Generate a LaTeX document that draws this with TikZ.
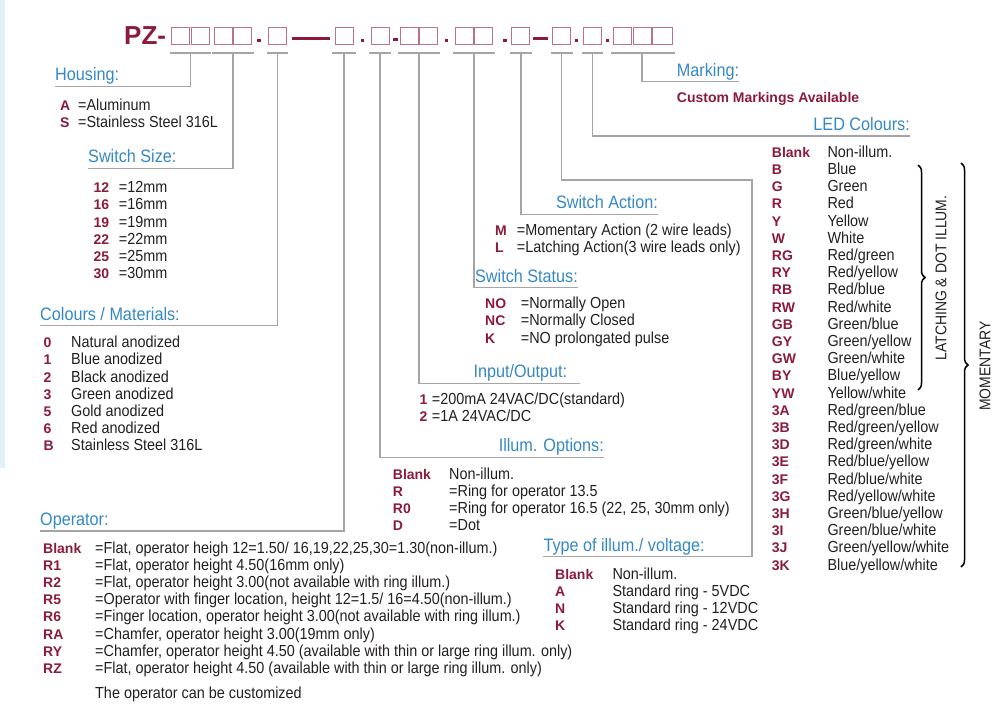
\documentclass[tikz,border=0pt]{standalone}
\usepackage{fontspec}
\usepackage{array}
\setmainfont{Liberation Sans}[FakeStretch=0.9]
\newfontfamily\codefont{Liberation Sans}
\usepackage{tikz}
\usetikzlibrary{
  calc,
  decorations.pathreplacing,
  positioning,
}
\definecolor{codered}{RGB}{139,26,60}
\definecolor{headblue}{RGB}{52,136,196}
\definecolor{linegray}{RGB}{165,165,165}
\definecolor{boxpink}{RGB}{192,112,135}
\definecolor{textgray}{RGB}{35,31,32}
\definecolor{stripblue}{RGB}{226,240,248}
\newcommand{\codestyle}{\codefont\bfseries\fontsize{14}{17.2}\selectfont\color{codered}}
\newcommand{\codelist}[2]{\begin{tabular}[t]{@{}>{\leavevmode\codestyle}p{#1}@{}l@{}}#2\end{tabular}}
\tikzstyle{link} = [
  line width=1.5pt,
  linegray,
]
\tikzstyle{digit} = [
  rectangle,
  draw=boxpink,
  line width=0.9pt,
  minimum width=18pt,
  minimum height=17pt,
  inner sep=0,
]
\tikzstyle{heading} = [
  inner xsep=0,
  inner ysep=1.5pt,
  text depth=4pt,
  text=headblue,
  font=\fontsize{18}{20}\selectfont,
]
\tikzstyle{items} = [
  anchor=base west,
  inner sep=0,
  text=textgray,
  font=\fontsize{16}{17.2}\selectfont,
]
\tikzstyle{curly} = [
  decorate,
  decoration={brace, amplitude=7pt},
  line width=1.5pt,
  black,
]
\tikzstyle{sidenote} = [
  rotate=90,
  inner sep=0,
  text=textgray,
  font=\fontsize{15.5}{17}\selectfont,
]

\begin{document}
\begin{tikzpicture}[x=1pt,y=-1pt,node distance=0.8pt]

        \useasboundingbox (0,0) rectangle (1000,709);
        \fill[stripblue] (0,0) rectangle (4.5,468);

        \node[anchor=base west,inner sep=0,text=codered,font=\codefont\bfseries\fontsize{26}{26}\selectfont] (pz) at (124,44.5) {PZ-};

        \node[digit] (b1) at (180.7,36) {};
        \node[digit] (b2) [right=of b1] {};
        \node[digit] (b3) at (223,36) {};
        \node[digit] (b4) [right=of b3] {};
        \node[digit] (b5) at (277.5,36) {};
        \node[digit] (b6) at (344.2,36) {};
        \node[digit] (b7) at (380,36) {};
        \node[digit] (b8) at (409,36) {};
        \node[digit] (b9) [right=of b8] {};
        \node[digit] (b10) at (464,36) {};
        \node[digit] (b11) [right=of b10] {};
        \node[digit] (b12) at (520.9,36) {};
        \node[digit] (b13) at (561.7,36) {};
        \node[digit] (b14) at (592.5,36) {};
        \node[digit] (b15) at (622.3,36) {};
        \node[digit] (b16) [right=of b15] {};
        \node[digit,minimum width=20pt] (b17) [right=of b16] {};

        \fill[codered] (257.4,38.8) rectangle ++(3.3,3);
        \fill[codered] (291.7,37) rectangle (330,40);
        \fill[codered] (360.6,38.8) rectangle ++(3.3,3);
        \fill[codered] (392.5,38.5) rectangle ++(5,3);
        \fill[codered] (445,38.8) rectangle ++(3.3,3);
        \fill[codered] (503.3,38.8) rectangle ++(3.3,3);
        \fill[codered] (533.3,37) rectangle (548.3,40);
        \fill[codered] (575,38.8) rectangle ++(3.3,3);
        \fill[codered] (606,38.8) rectangle ++(3.3,3);

        \draw[link] ([xshift=-1.5pt,yshift=-8pt]b1.south west) -- ([xshift=1.5pt,yshift=-8pt]b2.south east);
        \draw[link] ([xshift=-1.5pt,yshift=-8pt]b3.south west) -- ([xshift=1.5pt,yshift=-8pt]b4.south east);
        \draw[link] ([xshift=-1.5pt,yshift=-8pt]b5.south west) -- ([xshift=1.5pt,yshift=-8pt]b5.south east);
        \draw[link] ([xshift=-2.5pt,yshift=-8pt]b6.south west) -- ([xshift=2.5pt,yshift=-8pt]b6.south east);
        \draw[link] ([xshift=-1.5pt,yshift=-8pt]b7.south west) -- ([xshift=1.5pt,yshift=-8pt]b7.south east);
        \draw[link] ([xshift=-1.5pt,yshift=-8pt]b8.south west) -- ([xshift=1.5pt,yshift=-8pt]b9.south east);
        \draw[link] ([xshift=-1.5pt,yshift=-8pt]b10.south west) -- ([xshift=1.5pt,yshift=-8pt]b11.south east);
        \draw[link] ([xshift=-1.5pt,yshift=-8pt]b12.south west) -- ([xshift=1.5pt,yshift=-8pt]b12.south east);
        \draw[link] ([xshift=-1.5pt,yshift=-8pt]b13.south west) -- ([xshift=1.5pt,yshift=-8pt]b13.south east);
        \draw[link] ([xshift=-1.5pt,yshift=-8pt]b14.south west) -- ([xshift=1.5pt,yshift=-8pt]b14.south east);
        \draw[link] ([xshift=-1.5pt,yshift=-8pt]b15.south west) -- ([xshift=1.5pt,yshift=-8pt]b17.south east);

        \coordinate (s1) at ([yshift=-8pt]$(b1.south)!0.5!(b2.south)$);
        \coordinate (s2) at ([yshift=-8pt]$(b3.south)!0.5!(b4.south)$);
        \coordinate (s3) at ([yshift=-8pt]b5.south);
        \coordinate (s4) at ([yshift=-8pt]b6.south);
        \coordinate (s5) at ([yshift=-8pt]b7.south);
        \coordinate (s6) at ([yshift=-8pt]$(b8.south)!0.5!(b9.south)$);
        \coordinate (s7) at ([yshift=-8pt]$(b10.south)!0.5!(b11.south)$);
        \coordinate (s8) at ([yshift=-8pt]b12.south);
        \coordinate (s9) at ([yshift=-8pt]b13.south);
        \coordinate (s10) at ([yshift=-8pt]b14.south);
        \coordinate (s11) at ([yshift=-8pt]b16.south);

        \node[heading,anchor=south west] (housing) at (55,86.7) {Housing:};
        \node[heading,anchor=south west] (size) at (88,168.3) {Switch Size:};
        \node[heading,anchor=south west] (colours) at (40,325.7) {Colours / Materials:};
        \node[heading,anchor=south west] (operator) at (40,531) {Operator:};
        \node[heading,anchor=south east] (illum) at (604,457.3) {Illum. Options:};
        \node[heading,anchor=south west] (io) at (473.3,383.3) {Input/Output:};
        \node[heading,anchor=south east] (status) at (578,287.7) {Switch Status:};
        \node[heading,anchor=south east] (action) at (658,214.3) {Switch Action:};
        \node[heading,anchor=south west] (voltage) at (543.3,556.7) {Type of illum./ voltage:};
        \node[heading,anchor=south east] (led) at (910,136) {LED Colours:};
        \node[heading,anchor=south east] (marking) at (739.3,81.7) {Marking:};

        \coordinate (voltagebend) at (752,180);

        \draw[link] (s1) |- (housing.south west);
        \draw[link] (s2) |- (size.south west);
        \draw[link] (s3) |- (colours.south west);
        \draw[link] (s4) |- (operator.south west);
        \draw[link] (s5) |- (illum.south east);
        \draw[link] (s6) |- ([xshift=13pt]io.south east);
        \draw[link] (s7) |- (status.south east);
        \draw[link] (s8) |- (action.south east);
        \draw[link] (s9) |- (voltagebend) |- (voltage.south west);
        \draw[link] (s10) |- (led.south east);
        \draw[link] (s11) |- (marking.south east);

        \node[items] (housingcodes) at (60,110) {\codelist{18pt}{A & =Aluminum\\ S & =Stainless Steel 316L}};
        \node[items] (sizecodes) at (93.3,192.7) {\codelist{25.4pt}{12 & =12mm\\ 16 & =16mm\\ 19 & =19mm\\ 22 & =22mm\\ 25 & =25mm\\ 30 & =30mm}};
        \node[items] (colourcodes) at (43.3,347.7) {\codelist{27.7pt}{0 & Natural anodized\\ 1 & Blue anodized\\ 2 & Black anodized\\ 3 & Green anodized\\ 5 & Gold anodized\\ 6 & Red anodized\\ B & Stainless Steel 316L}};
        \node[items] (operatorcodes) at (43,553) {\codelist{52pt}{Blank & =Flat, operator heigh 12=1.50/ 16,19,22,25,30=1.30(non-illum.)\\ R1 & =Flat, operator height 4.50(16mm only)\\ R2 & =Flat, operator height 3.00(not available with ring illum.)\\ R5 & =Operator with finger location, height 12=1.5/ 16=4.50(non-illum.)\\ R6 & =Finger location, operator height 3.00(not available with ring illum.)\\ RA & =Chamfer, operator height 3.00(19mm only)\\ RY & =Chamfer, operator height 4.50 (available with thin or large ring illum. only)\\ RZ & =Flat, operator height 4.50 (available with thin or large ring illum. only)\\[7.4pt] & The operator can be customized}};
        \node[items] (illumcodes) at (392.7,479.3) {\codelist{56.3pt}{Blank & Non-illum.\\ R & =Ring for operator 13.5\\ R0 & =Ring for operator 16.5 (22, 25, 30mm only)\\ D & =Dot}};
        \node[items] (iocodes) at (419.3,404.3) {\codelist{12.4pt}{1 & =200mA 24VAC/DC(standard)\\ 2 & =1A 24VAC/DC}};
        \node[items] (statuscodes) at (485,308.7) {\codelist{35.7pt}{NO & =Normally Open\\ NC & =Normally Closed\\ K & =NO prolongated pulse}};
        \node[items] (actioncodes) at (495,235.3) {\codelist{21.7pt}{M & =Momentary Action (2 wire leads)\\ L & =Latching Action(3 wire leads only)}};
        \node[items] (voltagecodes) at (555,579.3) {\codelist{57.3pt}{Blank & Non-illum.\\ A & Standard ring - 5VDC\\ N & Standard ring - 12VDC\\ K & Standard ring - 24VDC}};
        \node[items] (ledcodes) at (771.7,157.3) {\codelist{55.6pt}{Blank & Non-illum.\\ B & Blue\\ G & Green\\ R & Red\\ Y & Yellow\\ W & White\\ RG & Red/green\\ RY & Red/yellow\\ RB & Red/blue\\ RW & Red/white\\ GB & Green/blue\\ GY & Green/yellow\\ GW & Green/white\\ BY & Blue/yellow\\ YW & Yellow/white\\ 3A & Red/green/blue\\ 3B & Red/green/yellow\\ 3D & Red/green/white\\ 3E & Red/blue/yellow\\ 3F & Red/blue/white\\ 3G & Red/yellow/white\\ 3H & Green/blue/yellow\\ 3I & Green/blue/white\\ 3J & Green/yellow/white\\ 3K & Blue/yellow/white}};
        \node[items,text=codered,font=\codestyle] (custom) at (676.7,102) {Custom Markings Available};

        \draw[curly] (918,165) -- (918,390);
        \draw[curly] (961,163) -- (961,567);
        \node[sidenote] (latching) at (941,278) {LATCHING \& DOT ILLUM.};
        \node[sidenote] (momentary) at (985,366) {MOMENTARY};

      \end{tikzpicture}
\end{document}
